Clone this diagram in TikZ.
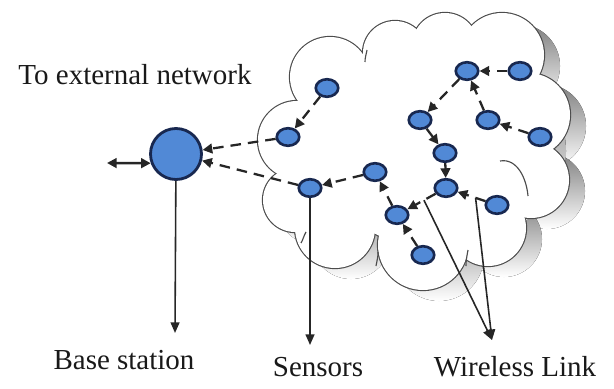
\documentclass[tikz,border=0pt]{standalone}
\usepackage{fontspec}
\setmainfont{Liberation Serif}
\usetikzlibrary{calc,arrows.meta,shapes.geometric}
\definecolor{nodeblue}{HTML}{5189D6}
\definecolor{nodeedge}{HTML}{182850}
\definecolor{shade}{HTML}{858585}
\tikzset{
  sensor/.style={ellipse, draw=nodeedge, fill=nodeblue, line width=1.5pt, minimum width=0.45cm, minimum height=0.35cm, inner sep=0pt},
  basest/.style={circle, draw=nodeedge, fill=nodeblue, line width=1.6pt, minimum size=1.02cm, inner sep=0pt},
  link/.style={draw=black!85, line width=1.3pt, dash pattern=on 6pt off 4pt, -{Triangle[length=5.5pt,width=5.5pt]}},
  pointer/.style={draw=black!85, line width=0.9pt, -{Triangle[length=6pt,width=5pt]}},
  cloudline/.style={draw=black!70, line width=1.3pt},
  cloudthin/.style={draw=black!70, line width=0.65pt},
  lab/.style={text=black!90, font=\fontsize{16.5}{19}\selectfont},
}
\def\lobes{330/77/40, 395/53/32, 445/46/33, 502/55/42, 528/115/42, 531/180/38,
  488/228/38, 423/245/45, 335/228/40, 295/200/32, 297/140/39,
  420/150/95, 370/140/80, 470/140/80}

\begin{document}
\begin{tikzpicture}[x=0.02cm,y=-0.02cm]
  \useasboundingbox (0,0) rectangle (614,388);
  % cloud: shadow, outline, white body
  \foreach \cx/\cy/\r in \lobes
    \fill[shade] (\cx+16,\cy+11) circle (\r*0.02cm);
  \foreach \cx/\cy/\r in \lobes
    \draw[cloudline] (\cx,\cy) circle (\r*0.02cm);
  \foreach \cx/\cy/\r in \lobes
    \fill[white] (\cx,\cy) circle (\r*0.02cm);
  % inner folds of the cloud
  \draw[cloudthin] (500,161) to[out=10,in=95] (528,196);
  \draw[cloudthin] (367,50) to[out=-100,in=90] (365,62);
  \draw[cloudthin] (376,266) to[out=80,in=-90] (378,252);
  \draw[cloudthin] (466,266) to[out=90,in=-100] (468,250);
  \draw[cloudthin] (301,243) to[out=60,in=-120] (306,232);

  \node[basest] (bs) at (176,154) {};
  \node[sensor] (s1) at (327,88) {};
  \node[sensor] (s2) at (288,137) {};
  \node[sensor] (s3) at (467,71) {};
  \node[sensor] (s4) at (520,71) {};
  \node[sensor] (s5) at (420,120) {};
  \node[sensor] (s6) at (488,120) {};
  \node[sensor] (s7) at (540,137) {};
  \node[sensor] (s8) at (445,153) {};
  \node[sensor] (s9) at (375,172) {};
  \node[sensor] (s10) at (310,188) {};
  \node[sensor] (s11) at (446,188) {};
  \node[sensor] (s12) at (497,205) {};
  \node[sensor] (s13) at (397,215) {};
  \node[sensor] (s14) at (423,255) {};

  \draw[link] (s1) -- (s2);
  \draw[link] (s2) -- (bs);
  \draw[link] (s10) -- (bs);
  \draw[link] (s9) -- (s10);
  \draw[link] (s13) -- (s9);
  \draw[link] (s14) -- (s13);
  \draw[link] (s11) -- (s13);
  \draw[link] (s12) -- (s11);
  \draw[link] (s8) -- (s11);
  \draw[link] (s5) -- (s8);
  \draw[link] (s3) -- (s5);
  \draw[link] (s4) -- (s3);
  \draw[link] (s6) -- (s3);
  \draw[link] (s7) -- (s6);

  \node[lab] (ext) at (135,75) {To external network};
  \node[lab] (bslab) at (124,360) {Base station};
  \node[lab] (senslab) at (318,367) {Sensors};
  \node[lab] (wllab) at (515,367) {Wireless Link};

  \coordinate (out) at (107,163);
  \coordinate (bsend) at (175,333);
  \coordinate (sensend) at (310,345);
  \coordinate (wlend) at (492,340);
  \draw[pointer, line width=1.4pt, {Triangle[length=5.5pt,width=5.5pt]}-{Triangle[length=5.5pt,width=5.5pt]}] (out) -- (bs.200);
  \draw[pointer] (bs) -- (bsend);
  \draw[pointer] (s10) -- (sensend);
  \draw[pointer] ($(s11)!0.45!(s13)$) -- (wlend);
  \draw[pointer] ($(s12)!0.42!(s11)$) -- (wlend);
\end{tikzpicture}
\end{document}
